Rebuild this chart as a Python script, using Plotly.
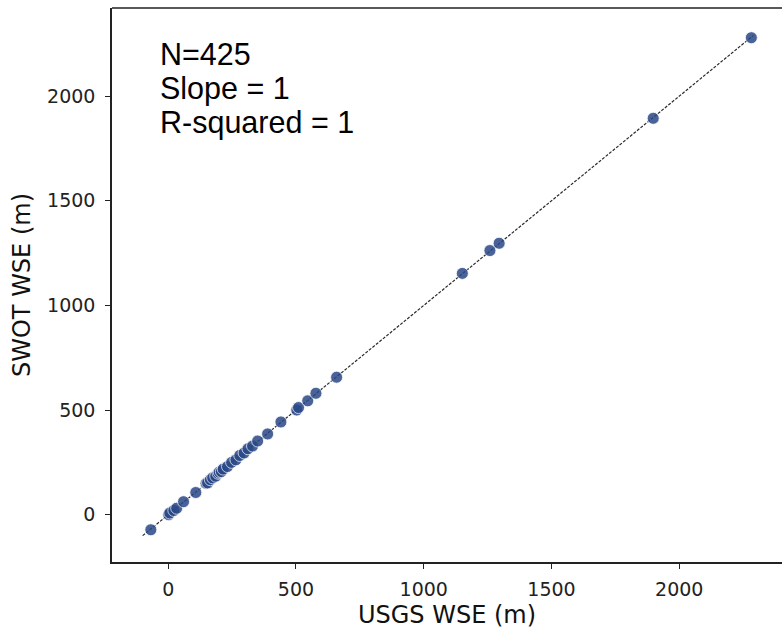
import plotly.graph_objects as go

# USGS vs SWOT water surface elevation (m)
usgs_wse = [-68, 2, 6, 22, 33, 60, 108, 148, 154, 165, 174, 186, 195, 200, 208, 215,
            232, 248, 265, 280, 297, 312, 330, 350, 389, 441, 503, 510, 546, 578, 659,
            1151, 1259, 1295, 1898, 2282]
swot_wse = [-72, 0, 8, 20, 31, 62, 106, 150, 152, 167, 176, 184, 198, 203, 206, 218,
            230, 250, 262, 283, 295, 315, 328, 352, 386, 443, 500, 512, 544, 580, 657,
            1153, 1262, 1297, 1894, 2279]
line_x = [-100, 2290]
line_y = [-100, 2290]

stats_lines = ["N=425", "Slope = 1", "R-squared = 1"]
x_ticks = [0, 500, 1000, 1500, 2000]
y_ticks = [0, 500, 1000, 1500, 2000]

fig = go.Figure()
fig.add_trace(go.Scatter(
    x=line_x, y=line_y, mode="lines",
    line=dict(color="#2a2a2a", width=1.2, dash="3px,1.5px"),
    showlegend=False, hoverinfo="skip"))
fig.add_trace(go.Scatter(
    x=usgs_wse, y=swot_wse, mode="markers",
    marker=dict(size=12, color="#2a4887", opacity=0.85,
                line=dict(color="white", width=0.8)),
    showlegend=False))

axis_common = dict(
    showgrid=False, zeroline=False, showline=True, linecolor="#222222", linewidth=1.5,
    ticks="outside", ticklen=5, tickwidth=1, tickcolor="#222222",
    tickfont=dict(family="DejaVu Sans", size=19, color="#222222"),
    title_font=dict(family="DejaVu Sans", size=24, color="#111111"),
)

fig.update_layout(
    width=782, height=630,
    margin=dict(l=112, r=0, t=8, b=68),
    paper_bgcolor="white", plot_bgcolor="white",
    xaxis=dict(range=[-220, 2402], tickvals=x_ticks, ticktext=[str(v) for v in x_ticks],
               title=dict(text="USGS WSE (m)", standoff=8), ticklabelstandoff=4, **axis_common),
    yaxis=dict(range=[-226, 2421], tickvals=y_ticks, ticktext=[str(v) for v in y_ticks],
               title=dict(text="SWOT WSE (m)", standoff=10), ticklabelstandoff=6, **axis_common),
)

# top spine
fig.add_shape(type="line", xref="paper", yref="paper", x0=0, x1=1, y0=1, y1=1,
              line=dict(color="#222222", width=1.5))

ys_px = [54, 88, 122]
for txt, py in zip(stats_lines, ys_px):
    fig.add_annotation(text=txt, xref="paper", yref="paper",
                       x=(158 - 112) / 670, y=(562 - py) / 554,
                       xanchor="left", yanchor="middle", showarrow=False,
                       font=dict(family="Liberation Sans", size=30.5, color="black"))

fig.write_html("out.html", config={"displayModeBar": False},
               post_script="document.body.style.margin='0';")
